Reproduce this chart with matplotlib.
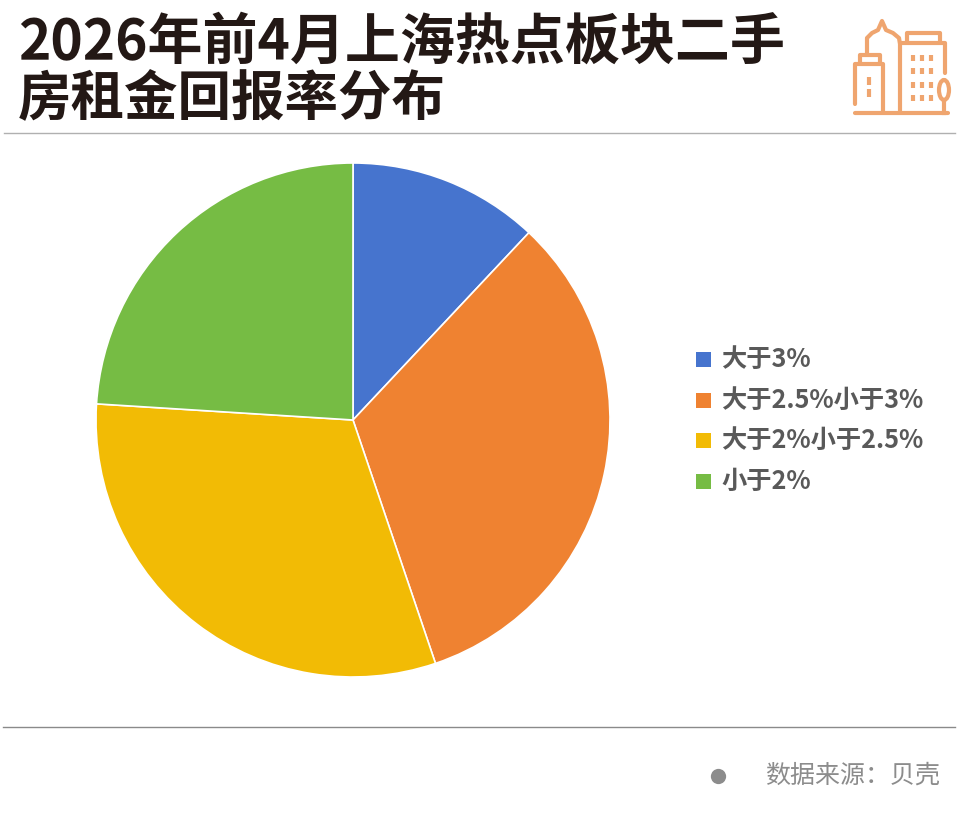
import matplotlib
matplotlib.use("Agg")
import matplotlib.pyplot as plt

plt.rcParams['font.family'] = ['Noto Sans CJK SC', 'DejaVu Sans']

categories = ['大于3%', '大于2.5%小于3%', '大于2%小于2.5%', '小于2%']
shares = [12, 32.8, 31.2, 24]
colors = ['#4674CE', '#EF8231', '#F2BB05', '#76BC44']
title_lines = ['2026年前4月上海热点板块二手', '房租金回报率分布']
source = '数据来源：贝壳'

W, H = 960, 826
fig = plt.figure(figsize=(W / 100, H / 100), dpi=100, facecolor='white')

bg = fig.add_axes([0, 0, 1, 1])
bg.set_xlim(0, W)
bg.set_ylim(H, 0)
bg.axis('off')

# title
bg.text(18, 43, title_lines[0], fontsize=39.6, fontweight='bold', color='#231815', va='center', ha='left')
bg.text(18, 100, title_lines[1], fontsize=38.5, fontweight='bold', color='#231815', va='center', ha='left')

# rules
bg.plot([4, 955], [133, 133], color='#B0B0B0', lw=1.0)
bg.plot([3, 955], [727, 727], color='#8A8A8A', lw=1.0)

# building icon
ic = '#EFA56F'
lw = 3.0
icon_paths = [
    [(855, 113), (948, 113)],
    [(855, 104), (855, 64), (883, 64), (883, 113)],
    [(860, 64), (860, 55), (880, 55), (880, 64)],
    [(867, 55), (867, 38), (872, 33), (878, 30), (882, 21), (886, 30), (893, 33), (899, 38), (900, 44), (900, 113)],
    [(900, 43), (945, 43), (945, 73)],
    [(907, 43), (907, 33), (940, 33), (940, 43)],
]
for p in icon_paths:
    bg.plot([q[0] for q in p], [q[1] for q in p], color=ic, lw=lw, solid_capstyle='round', solid_joinstyle='round')
for x in [913, 922, 931]:
    for y in [55, 68, 82, 95]:
        bg.plot([x, x], [y, y + 6], color=ic, lw=3.0, solid_capstyle='butt')
for y in [77, 89]:
    bg.plot([869, 869], [y, y + 8], color=ic, lw=3.0, solid_capstyle='butt')
bg.add_patch(matplotlib.patches.Ellipse((944, 90), 10, 20, fill=False, ec=ic, lw=lw))
bg.plot([944, 944], [100, 113], color=ic, lw=lw)

# pie
cx, cy, r = 353, 420, 257
ax = fig.add_axes([(cx - r) / W, 1 - (cy + r) / H, 2 * r / W, 2 * r / H])
ax.pie(shares, colors=colors, startangle=90, counterclock=False, radius=1,
       wedgeprops=dict(edgecolor='white', linewidth=1.2))
ax.set_xlim(-1, 1)
ax.set_ylim(-1, 1)

# legend
for name, col, y in zip(categories, colors, [359, 400, 440, 481]):
    bg.add_patch(plt.Rectangle((696, y - 7.5), 15, 15, color=col, lw=0))
    bg.text(721, y, name, fontsize=18.2, fontweight='bold', color='#595959', va='center', ha='left')

# footer
bg.plot([718], [776], 'o', color='#8C8C8C', ms=11, mew=0)
bg.text(765, 776, source, fontsize=18, color='#8C8C8C', va='center', ha='left')

fig.savefig('out.png', dpi=100, facecolor='white')
